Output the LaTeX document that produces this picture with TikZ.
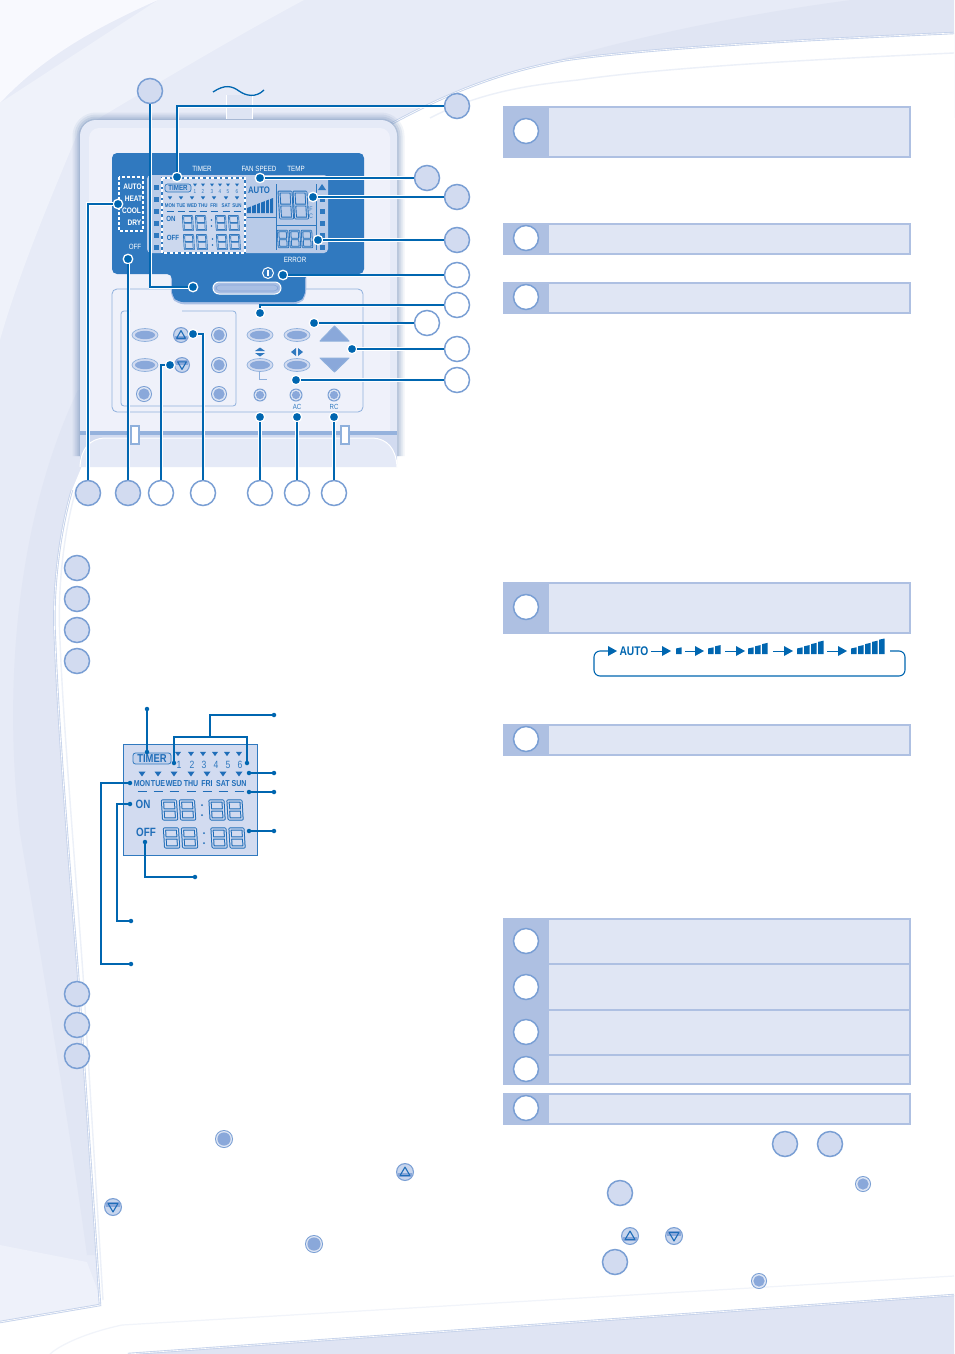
\documentclass[tikz,border=0pt]{standalone}
\usepackage{fontspec}
\setmainfont{Liberation Sans}
\newfontfamily\lcdfont[FakeStretch=0.82]{Liberation Sans}
\usetikzlibrary{calc}
\definecolor{linkblue}{HTML}{0066B0}
\definecolor{panelblue}{HTML}{3079BF}
\definecolor{segblue}{HTML}{1F6DB8}
\definecolor{bubfill}{HTML}{D2DBF0}
\definecolor{bubline}{HTML}{7A9FD4}
\definecolor{boxfill}{HTML}{E0E6F4}
\definecolor{boxstrip}{HTML}{AEC0E2}
\definecolor{lcdfill}{HTML}{B9CBE8}
\definecolor{lcdlight}{HTML}{CCD8EE}
\definecolor{framec}{HTML}{8FB0DC}
\definecolor{btnfill}{HTML}{A9BFE4}
\definecolor{btnin}{HTML}{8AA8DA}
\tikzset{
 bub/.style={circle,draw=bubline,fill=bubfill,line width=1.5pt,minimum size=25pt,inner sep=0pt},
 wbub/.style={bub,fill=white},
 dotn/.style={circle,fill=linkblue,draw=white,line width=1.3pt,minimum size=9.5pt,inner sep=0pt},
 smalldot/.style={circle,fill=linkblue,minimum size=4.5pt,inner sep=0pt},
 thinlink/.style={draw=linkblue,line width=1.1pt,preaction={draw=white,line width=3pt}},
 link/.style={draw=linkblue,line width=1.8pt,preaction={draw=white,line width=3.6pt}},
 dlink/.style={draw=linkblue,line width=1.3pt},
 hbox/.style={draw=boxstrip,line width=1.6pt,fill=boxfill},
 strip/.style={fill=boxstrip},
 wlab/.style={text=white,font=\lcdfont\fontsize{7.6}{8}\selectfont,inner sep=0pt},
 wbold/.style={text=white,font=\lcdfont\bfseries\fontsize{8}{8}\selectfont,inner sep=0pt},
 blab/.style={text=panelblue,font=\lcdfont\fontsize{7.4}{8}\selectfont,inner sep=0pt},
 dayp/.style={text=segblue,font=\lcdfont\bfseries\fontsize{5.4}{6}\selectfont,inner sep=0pt},
 dayd/.style={text=segblue,font=\lcdfont\bfseries\fontsize{8.6}{9}\selectfont,inner sep=0pt},
 dign/.style={text=panelblue,font=\lcdfont\fontsize{7}{8}\selectfont,inner sep=0pt},
 tickm/.style={fill=segblue},
}
% seven segment digit: x y w h fill linewidth gap
\newcommand\segdig[7]{\begin{scope}[shift={(#1,#2)},xslant=-0.06]
 \draw[draw=segblue,line width=#6,double=#5,double distance=#7,line join=round] (0,0) rectangle (#3,#4) (0,#4/2) -- (#3,#4/2);
\end{scope}}
\newcommand\tridown[3]{\fill[tickm] (#1-#3,#2-#3*.7) -- (#1+#3,#2-#3*.7) -- (#1,#2+#3*.7) -- cycle;}
\newcommand\rbtn[3]{% x y r
 \fill[bubline] (#1,#2) circle (#3);
 \fill[white!60!btnfill] (#1,#2) circle (#3-1);
 \fill[btnin] (#1,#2) circle (#3-2.4);}
\newcommand\upbtn[3]{\fill[bubline] (#1,#2) circle (#3);
 \fill[white!35!btnfill] (#1,#2) circle (#3-1.2);
 \fill[btnin] (#1-#3*.75,#2+.5) rectangle (#1+#3*.75,#2+#3*.6);
 \draw[segblue,line width=1.1pt,line join=round] (#1-#3*.55,#2+#3*.4) -- (#1+#3*.55,#2+#3*.4) -- (#1,#2-#3*.55) -- cycle;}
\newcommand\dnbtn[3]{\fill[bubline] (#1,#2) circle (#3);
 \fill[white!35!btnfill] (#1,#2) circle (#3-1.2);
 \fill[btnin] (#1-#3*.75,#2-#3*.6) rectangle (#1+#3*.75,#2-.5);
 \draw[segblue,line width=1.1pt,line join=round] (#1-#3*.55,#2-#3*.4) -- (#1+#3*.55,#2-#3*.4) -- (#1,#2+#3*.55) -- cycle;}
\newcommand\ovalbtn[2]{\draw[framec,fill=bubfill,line width=.7pt] (#1,#2) ellipse (13 and 6.5);
 \fill[btnin] (#1,#2) ellipse (10 and 4.2);}
\begin{document}
\begin{tikzpicture}[x=1pt,y=-1pt]
\useasboundingbox (0,0) rectangle (954,1354);
% ---------- background
\fill[color={rgb,255:red,231;green,235;blue,247}] (0,0) rectangle (954,1354);
\fill[color={rgb,255:red,239;green,242;blue,250}] (158,0) -- (304,0) .. controls (220,45) and (130,100) .. (79,130) .. controls (50,200) and (20,270) .. (0,340) -- (0,103) -- cycle;
\fill[color={rgb,255:red,248;green,249;blue,254}] (0,0) -- (158,0) .. controls (90,30) and (40,60) .. (0,103) -- cycle;
\fill[color={rgb,255:red,224;green,229;blue,243}] (851,0) .. controls (700,20) and (520,60) .. (400,118) -- (954,118) -- (954,0) -- cycle;
\fill[color={rgb,255:red,225;green,230;blue,244}] (78,390) .. controls (25,500) and (0,660) .. (20,833) .. controls (40,950) and (70,1130) .. (87,1255) -- (120,1255) -- (120,390) -- cycle;
\fill[color={rgb,255:red,238;green,241;blue,250}] (0,1245) -- (87,1262) -- (105,1310) -- (0,1325) -- cycle;
% ---------- white page
\fill[white] (954,33) .. controls (800,40) and (650,48) .. (566,60) .. controls (500,72) and (450,92) .. (389,125) -- (82,466) -- (72,490) .. controls (60,530) and (52,590) .. (55,640) .. controls (58,720) and (68,850) .. (78,974) -- (100,1305) -- (0,1322) -- (0,1354) -- (954,1354) -- cycle;
\fill[color={rgb,255:red,223;green,228;blue,243}] (128,1354) -- (954,1295) -- (954,1354) -- cycle;
% page edge stripes
\foreach \c/\w in {boxstrip!70!white/2.4,white/.6}{
 \draw[color=\c,line width=\w] (954,33) .. controls (800,40) and (650,48) .. (566,60) .. controls (500,72) and (450,92) .. (389,125);
 \draw[color=\c,line width=\w] (72,490) .. controls (60,530) and (52,590) .. (55,640) .. controls (58,720) and (68,850) .. (78,974) -- (100,1305) -- (0,1322);
 \draw[color=\c,line width=\w] (128,1354) -- (954,1295);
}
\draw[color=boxfill!60!white,line width=1.4pt] (954,53) .. controls (800,60) and (660,68) .. (578,80) .. controls (530,85) and (480,92) .. (430,118);
\draw[color=boxfill!60!white,line width=1.4pt] (76,490) .. controls (64,530) and (57,590) .. (60,640) .. controls (63,720) and (74,850) .. (83,974) -- (103,1300);
\draw[color=boxfill!45!white,line width=1.2pt] (954,1276) -- (122,1325) .. controls (85,1333) and (60,1345) .. (50,1354);
% ---------- device body
\begin{scope}
\clip[rounded corners=12] (40,100) rectangle (440,456);
\foreach \w/\o in {15/.09,11/.13,7/.16,3/.24}{
 \draw[color=bubline!85!black,opacity=\o,line width=\w,rounded corners=16] (80,120) rectangle (397,480);
}
\end{scope}
\begin{scope}
\clip (40,100) rectangle (440,466);
\fill[color={rgb,255:red,229;green,234;blue,247},rounded corners=16] (80,120) rectangle (397,480);
\fill[color={rgb,255:red,239;green,241;blue,250},rounded corners=10] (89,128) rectangle (390,440);
\end{scope}
% cable
\fill[color={rgb,255:red,222;green,228;blue,243}] (226,95) rectangle (252,119);
\draw[white] (226,95) -- (226,119) (252,95) -- (252,119);
\draw[linkblue,line width=1.3pt] (213,92) .. controls (225,84) and (232,86) .. (239,91) .. controls (246,96) and (256,98) .. (264,90);
% lower cover
\fill[color=bubline!80!white] (80,431) rectangle (397,435);
\fill[color=bubfill] (80,435) rectangle (397,466);
\draw[white,line width=1pt,fill={rgb,255:red,229;green,234;blue,247}] (80,467) .. controls (81,448) and (90,439) .. (104,438) -- (373,438) .. controls (387,439) and (396,448) .. (397,467);
\draw[framec,fill=white,line width=1.2pt] (131,426) rectangle (139,444);
\draw[framec,fill=white,line width=1.2pt] (341,426) rectangle (349,444);
% key frames
\draw[framec,line width=.8pt,rounded corners=5] (112,289) rectangle (363,412);
\draw[framec,line width=.8pt,rounded corners=3] (130,311) -- (121,311) -- (121,406) -- (236,406) -- (236,311) -- (182,311);
\draw[framec,line width=.8pt] (259,372) -- (259,379) -- (267,379);
% ---------- blue panel
\draw[color=btnfill,line width=2.5pt,rounded corners=6,fill=panelblue] (172,274) -- (172,296) -- (178,303) -- (299,303) -- (305,296) -- (305,274);
\fill[panelblue,rounded corners=5] (112,274) -- (112,153) -- (364,153) -- (364,274) -- (305,274) -- (305,296) -- (299,302) -- (178,302) -- (172,296) -- (172,274) -- cycle;
% main lcd
\fill[lcdfill,rounded corners=4] (147,175) rectangle (328,253);
% square ticks
\foreach \y in {187,199,211,223,235,247}{\fill[panelblue] (153.5,\y-2.5) rectangle (158.5,\y+2.5);}
\foreach \y in {199,211,223,235,247}{\fill[panelblue] (319.5,\y-2.5) rectangle (324.5,\y+2.5);}
\fill[panelblue] (318,190) -- (326,190) -- (322,184) -- cycle;
% mode box
\fill[panelblue] (119,177) rectangle (143,231);
\draw[white,line width=1.6pt,dash pattern=on 3pt off 2pt] (119,177) rectangle (143,231);
\node[wbold] (mauto) at (132.5,186.5) {AUTO};
\node[wbold] (mheat) at (133.5,198.5) {HEAT};
\node[wbold] (mcool) at (131.5,210.5) {COOL};
\node[wbold] (mdry) at (134.5,223) {DRY};
% timer area
\fill[lcdlight] (162,178) rectangle (245,253);
\draw[panelblue,line width=1.8pt] (162,178) rectangle (245,253);
\draw[white,line width=1.8pt,dash pattern=on 3pt off 2.5pt] (162,178) rectangle (245,253);
\draw[panelblue,line width=.7pt,fill=lcdfill,rounded corners=2.5] (165,184) rectangle (191,192);
\node[dayp,font=\lcdfont\bfseries\fontsize{7.5}{8}\selectfont] (ptimer) at (178,188) {TIMER};
\foreach \x/\d in {195/1,203/2,212/3,220/4,228/5,237/6}{
 \tridown{\x}{185}{2}
 \node[dign,font=\lcdfont\fontsize{5.6}{6}\selectfont] (pd\d) at (\x,192) {\d};
}
\foreach \x in {170,181,192,203,214,226,237}{\tridown{\x}{198}{2.2}}
\foreach \x/\t in {170/MON,181/TUE,192/WED,203/THU,214/FRI,226/SAT,237/SUN}{
 \node[dayp] (pday\t) at (\x,206) {\t};
 \draw[segblue,line width=.7pt] (\x-3.5,211) -- (\x+3.5,211);
}
\node[dayp,font=\lcdfont\bfseries\fontsize{7.5}{8}\selectfont] (pon) at (171,219) {ON};
\node[dayp,font=\lcdfont\bfseries\fontsize{7.5}{8}\selectfont] (poff) at (173,238) {OFF};
\foreach \y/\xo in {216/183,235/184}{
 \segdig{\xo}{\y}{9}{14}{lcdlight}{.7pt}{.5pt}
 \segdig{\xo+13}{\y}{9}{14}{lcdlight}{.7pt}{.5pt}
 \segdig{\xo+33}{\y}{9}{14}{lcdlight}{.7pt}{.5pt}
 \segdig{\xo+46}{\y}{9}{14}{lcdlight}{.7pt}{.5pt}
 \fill[segblue] (\xo+28.5,\y+4) circle (.9) (\xo+28.5,\y+10) circle (.9);
}
% fan + temp
\node[dayp,font=\lcdfont\bfseries\fontsize{9.5}{10}\selectfont] (pauto) at (259,190) {AUTO};
\fill[segblue] (247,213) -- (247,208) -- (273,198) -- (273,213) -- cycle;
\foreach \x in {251.5,256,260.5,265,269.5}{\draw[lcdfill,line width=1pt] (\x,195) -- (\x,214);}
\draw[panelblue,line width=.9pt] (247,217) -- (276,217) (276,184) -- (276,250) (276,225) -- (316,225) (316,184) -- (316,250);
\segdig{279}{192}{12}{26}{lcdfill}{.9pt}{1pt}
\segdig{294}{192}{12}{26}{lcdfill}{.9pt}{1pt}
\node[dign,font=\lcdfont\fontsize{6.5}{7}\selectfont] (pdegf) at (310,209) {°F};
\node[dign,font=\lcdfont\fontsize{6.5}{7}\selectfont] (pdegc) at (310,216) {°C};
\segdig{278}{231}{9}{16}{lcdfill}{.8pt}{.7pt}
\segdig{290}{231}{9}{16}{lcdfill}{.8pt}{.7pt}
\segdig{302}{231}{9}{16}{lcdfill}{.8pt}{.7pt}
% labels on panel
\node[wlab] (ltimer) at (202,169) {TIMER};
\node[wlab] (lfan) at (259,169) {FAN SPEED};
\node[wlab] (ltemp) at (296,169) {TEMP};
\node[wlab] (loff) at (135,247) {OFF};
\node[wlab] (lerr) at (295,260) {ERROR};
\draw[white,line width=1pt] (268,273) circle (5.5);
\draw[white,line width=1.2pt] (268,270) -- (268,276);
\draw[white,line width=1pt,fill=btnfill,rounded corners=6] (213,282) rectangle (281,294);
\draw[btnin,line width=.6pt,rounded corners=4] (216,285) rectangle (278,291);
% ---------- keys
\ovalbtn{145}{335}\ovalbtn{145}{365}
\ovalbtn{260}{335}\ovalbtn{297}{335}\ovalbtn{260}{365}\ovalbtn{297}{365}
\upbtn{181}{335}{8}\dnbtn{182}{365}{8}
\rbtn{144}{394}{8}\rbtn{219}{335}{8}\rbtn{219}{365}{8}\rbtn{219}{394}{8}
\rbtn{260}{395}{6.5}\rbtn{296}{395}{6.5}\rbtn{334}{395}{6.5}
\draw[framec,fill=btnin,line width=1pt,line join=round] (320,341) -- (349,341) -- (334.5,326) -- cycle;
\draw[framec,fill=btnin,line width=1pt,line join=round] (320,358) -- (349,358) -- (334.5,372) -- cycle;
\fill[panelblue] (255,351) -- (265,351) -- (260,347.5) -- cycle (255,353) -- (265,353) -- (260,356.5) -- cycle;
\fill[panelblue] (296,348) -- (296,356) -- (291,352) -- cycle (298,348) -- (298,356) -- (303,352) -- cycle;
\node[blab] (lac) at (297,406.5) {AC};
\node[blab] (lrc) at (334,406.5) {RC};
% ---------- callout bubbles
\foreach \n/\x/\y in {a/150/91,b/457/106,c/427/178,d/457/197,e/457/240,q/88/493,r/128/493}{\node[bub] (bub\n) at (\x,\y) {};}
\foreach \n/\x/\y in {f/457/275,g/457/305,h/427/323,i/457/349,j/457/380,s/161/493,t/203/493,u/260/493,v/297/493,w/334/493}{\node[wbub] (bub\n) at (\x,\y) {};}
% dots
\foreach \n/\x/\y in {a/193/287,b/177/177,c/260/178,d/313/197,e/318/240,f/283/275,g/260/313,h/314/323,i/352/349,j/296/380,q/118/204,r/128/259,s/170/365,t/193/334,u/260/417,v/297/417,w/334/417}{\node[dotn] (dot\n) at (\x,\y) {};}
% connectors
\draw[thinlink] (buba) |- (dota);
\draw[thinlink] (bubb) -| (dotb);
\draw[link] (bubc) -- (dotc);
\draw[link] (bubd) -- (dotd);
\draw[link] (bube) -- (dote);
\draw[thinlink] (bubf) -- (dotf);
\draw[thinlink] (bubg) -| (dotg);
\draw[thinlink] (bubh) -- (doth);
\draw[link] (bubi) -- (doti);
\draw[link] (bubj) -- (dotj);
\draw[link] (bubq) |- (dotq);
\draw[thinlink] (bubr) -- (dotr);
\draw[thinlink] (bubs) |- (dots);
\draw[thinlink] (bubt) |- (dott);
\draw[link] (bubu) -- (dotu);
\draw[link] (bubv) -- (dotv);
\draw[link] (bubw) -- (dotw);
% ---------- left lists
\foreach \n/\x/\y in {1/77/568,2/77/599,3/77/630,4/77/661,5/77/994,6/77/1025,7/77/1056,8/785/1144,9/830/1144,10/620/1193,11/615/1262}{\node[bub] (lst\n) at (\x,\y) {};}
% ---------- detail lcd
\draw[panelblue,line width=.8pt,fill=bubfill] (123,744) rectangle (257,855);
\draw[panelblue,line width=.8pt,fill=lcdfill!60!bubfill,rounded corners=2.5] (133,753) rectangle (171,764);
\node[dayd,font=\lcdfont\bfseries\fontsize{11.5}{12}\selectfont] (dtimer) at (152,759) {TIMER};
\foreach \x/\d in {178/1,191/2,203/3,215/4,227/5,239/6}{
 \tridown{\x}{754}{3}
 \node[dign,font=\lcdfont\fontsize{10.5}{11}\selectfont] (dd\d) at (\x+1,765) {\d};
}
\foreach \x/\t in {142/MON,158/TUE,174/WED,191/THU,207/FRI,223/SAT,239/SUN}{
 \tridown{\x}{774}{3.5}
 \node[dayd] (dday\t) at (\x,784) {\t};
 \draw[segblue,line width=1pt] (\x-4.5,791) -- (\x+4.5,791);
}
\node[dayd,font=\lcdfont\bfseries\fontsize{12}{12}\selectfont] (don) at (143,804) {ON};
\node[dayd,font=\lcdfont\bfseries\fontsize{12}{12}\selectfont] (doff) at (146,832) {OFF};
\foreach \y/\xo in {801/161,829/163}{
 \segdig{\xo+1.5}{\y}{13}{18}{bubfill}{1pt}{1.1pt}
 \segdig{\xo+19.5}{\y}{13}{18}{bubfill}{1pt}{1.1pt}
 \segdig{\xo+49}{\y}{13}{18}{bubfill}{1pt}{1.1pt}
 \segdig{\xo+67}{\y}{13}{18}{bubfill}{1pt}{1.1pt}
 \fill[segblue] (\xo+41,\y+4) circle (1) (\xo+41,\y+14) circle (1);
}
\foreach \n/\x/\y in {a/147/709,b/274/715,c/274/773,d/274/792,e/274/831,f/195/877,g/131/921,h/131/964,
 i/147/752,j/174/763,k/247/763,l/249/773,m/249/792,n/249/831,o/145/842,p/130/804,q/130/783}{\node[smalldot] (sd\n) at (\x,\y) {};}
\coordinate (jun) at (210,737);
\draw[dlink] (sda) -- (sdi);
\draw[dlink] (sdb) -| (jun);
\draw[dlink] (sdj) |- (jun) -| (sdk);
\draw[dlink] (sdc) -- (sdl);
\draw[dlink] (sdd) -- (sdm);
\draw[dlink] (sde) -- (sdn);
\draw[dlink] (sdf) -| (sdo);
\coordinate (cp1) at (117,921);
\coordinate (cq1) at (101,964);
\draw[dlink] (sdg) -- (cp1) |- (sdp);
\draw[dlink] (sdh) -- (cq1) |- (sdq);
% ---------- right boxes
\foreach \t/\b/\y/\n in {106/157/131/1,223/254/238/2,282/313/297/3,582/633/607/4,724/755/739/5,1093/1124/1108/6}{
 \draw[hbox] (503.8,\t.8) rectangle (910.2,\b.2);
 \fill[strip] (503,\t) rectangle (549,\b);
 \node[wbub] (box\n) at (526,\y) {};
}
\draw[hbox] (503.8,918.8) rectangle (910.2,1084.2);
\fill[strip] (503,918) rectangle (549,1085);
\draw[boxstrip,line width=1.6pt] (549,964) -- (910,964) (549,1010) -- (910,1010) (549,1055) -- (910,1055);
\foreach \y/\n in {941/7,987/8,1032/9,1069/10}{\node[wbub] (box\n) at (526,\y) {};}
% ---------- fan speed loop
\node[text=linkblue,font=\lcdfont\bfseries\fontsize{12.5}{13}\selectfont,inner sep=0pt] (autotxt) at (634,651) {AUTO};
\coordinate (loopa) at (890,651);
\coordinate (loopb) at (608,651);
\draw[linkblue,line width=1.1pt,rounded corners=6] (loopa) -- (905,651) -- (905,676) -- (594,676) -- (594,651) -- (loopb);
\fill[linkblue] (608,646) -- (617,651) -- (608,656) -- cycle;
\foreach \xa/\xb in {651/671,685/704,725/745,773/793,827/847}{
 \draw[linkblue,line width=1pt] (\xa,651) -- (\xb-8,651);
 \fill[linkblue] (\xb-9,646) -- (\xb,651) -- (\xb-9,656) -- cycle;
}
\foreach \xs/\n in {676/1,708/2,748/3,797/4,851/5}{
 \foreach \i in {1,...,\n}{
  \fill[linkblue] (\xs+\i*7-7,654) -- (\xs+\i*7-1.5,654) -- (\xs+\i*7-1.5,654-4.5-\i*2.2) -- (\xs+\i*7-7,654-3.3-\i*2.2) -- cycle;
 }
}
% ---------- inline buttons
\rbtn{224}{1139}{9}
\upbtn{405}{1172}{9}
\dnbtn{113}{1207}{9}
\rbtn{314}{1244}{9}
\rbtn{863}{1184}{8}
\upbtn{630}{1236}{9}
\dnbtn{674}{1236}{9}
\rbtn{759}{1281}{8}
\end{tikzpicture}
\end{document}
